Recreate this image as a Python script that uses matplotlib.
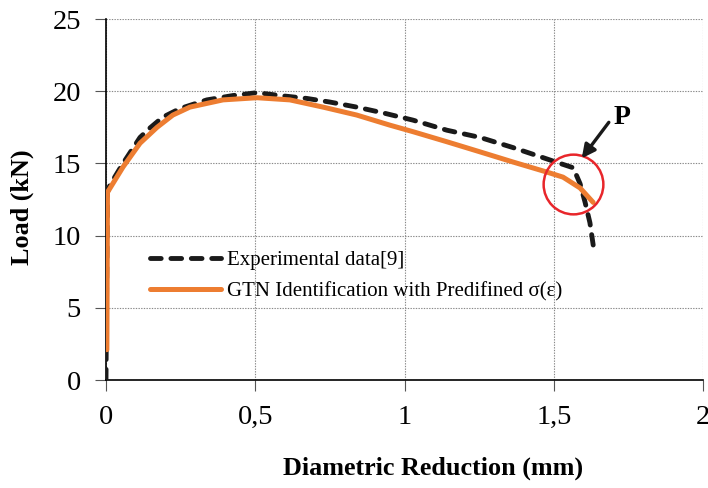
import matplotlib.pyplot as plt

plt.rcParams['font.family'] = ['Liberation Serif', 'DejaVu Serif']

# experimental load curve
exp_x = [0, 0.002, 0.005, 0.013, 0.057, 0.114, 0.147, 0.19, 0.248, 0.338,
         0.425, 0.506, 0.583, 0.673, 0.75, 0.84, 0.928, 1.028, 1.142, 1.253,
         1.363, 1.464, 1.521, 1.565, 1.588, 1.605, 1.621, 1.632]
exp_y = [0, 6, 13.0, 13.5, 15.0, 16.8, 17.45, 18.2, 18.8, 19.4,
         19.7, 19.9, 19.7, 19.5, 19.25, 18.9, 18.5, 18.0, 17.3, 16.8,
         16.1, 15.4, 15.0, 14.7, 13.6, 12.3, 10.9, 9.35]

# GTN simulation curve
gtn_x = [0.003, 0.005, 0.057, 0.114, 0.171, 0.224, 0.281, 0.392, 0.506, 0.616,
         0.727, 0.84, 0.951, 1.028, 1.142, 1.253, 1.363, 1.477, 1.531, 1.588, 1.632]
gtn_y = [2.1, 13.0, 14.75, 16.4, 17.5, 18.35, 18.9, 19.4, 19.55, 19.4,
         18.9, 18.35, 17.65, 17.2, 16.5, 15.8, 15.1, 14.4, 14.05, 13.3, 12.3]

x_ticks = [0, 0.5, 1, 1.5, 2]
x_tick_labels = ['0', '0,5', '1', '1,5', '2']
y_ticks = [0, 5, 10, 15, 20, 25]

point_p = (1.565, 13.6)

fig = plt.figure(figsize=(7.08, 4.88), dpi=100)
ax = fig.add_axes([0.1497, 0.2213, 0.8433, 0.7397])

ax.plot(exp_x, exp_y, color='#1a1a1a', lw=3.5, dashes=(2.2, 2.0),
        dash_capstyle='round', label='Experimental data[9]', zorder=3)
ax.plot(gtn_x, gtn_y, color='#ED7D31', lw=3.6, solid_capstyle='round',
        solid_joinstyle='round',
        label='GTN Identification with Predifined σ(ε)', zorder=4)

# point P marker and arrow
ax.plot(*point_p, marker='o', ms=43, mfc='none', mec='#E8262B', mew=1.8,
        zorder=5, clip_on=False)
ax.annotate('', xy=(1.588, 15.2), xytext=(1.69, 18.0),
            arrowprops=dict(arrowstyle='-|>', color='#1a1a1a', lw=2.4,
                            mutation_scale=20), zorder=6)
ax.text(1.70, 17.3, 'P', fontsize=20, fontweight='bold', ha='left', va='bottom')

ax.set_xlim(0, 2)
ax.set_ylim(0, 25)
ax.set_xticks(x_ticks)
ax.set_xticklabels(x_tick_labels)
ax.set_yticks(y_ticks)
ax.tick_params(axis='both', labelsize=20.5, direction='out', length=8,
               width=0.8, color='#555555', pad=10)

ax.grid(True, color='#888888', linestyle=(0, (1.2, 1.2)), lw=0.8)
ax.set_axisbelow(True)
for side in ['top', 'right']:
    ax.spines[side].set_visible(False)
for side in ['left', 'bottom']:
    ax.spines[side].set_linewidth(1.2)

ax.set_xlabel('Diametric Reduction (mm)', fontsize=18.8, fontweight='bold')
ax.set_ylabel('Load (kN)', fontsize=18.8, fontweight='bold')
ax.xaxis.set_label_coords(0.547, -0.213)
ax.yaxis.set_label_coords(-0.121, 0.479)

ax.legend(loc='upper left', bbox_to_anchor=(0.043, 0.41), frameon=False,
          fontsize=15, handlelength=3.4, handletextpad=0.3, labelspacing=0.55)

fig.savefig('out.png', dpi=100)
